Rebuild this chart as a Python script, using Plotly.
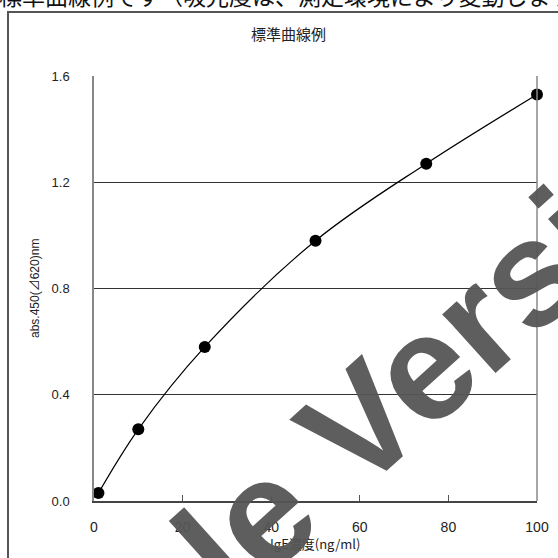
import plotly.graph_objects as go

conc = [1, 10, 25, 50, 75, 100]
absorb = [0.03, 0.27, 0.58, 0.98, 1.27, 1.53]
x_ticks = [0, 20, 40, 60, 80, 100]
y_ticks = [0.0, 0.4, 0.8, 1.2, 1.6]
y_tick_labels = ["0.0", "0.4", "0.8", "1.2", "1.6"]

L, R, T, B = 94, 21, 76, 57
W = H = 558
pw, ph = W - L - R, H - T - B

def px(xpix):
    return (xpix - L) / pw

def py(ypix):
    return (H - B - ypix) / ph

fig = go.Figure()
fig.add_trace(go.Scatter(
    x=conc, y=absorb, mode="lines+markers",
    line=dict(color="black", width=1.2, shape="spline", smoothing=1.0),
    marker=dict(color="black", size=12),
    cliponaxis=False, showlegend=False,
))

font = "Liberation Sans, Arial, Noto Sans CJK JP, sans-serif"

fig.update_layout(
    width=W, height=H,
    margin=dict(l=L, r=R, t=T, b=B, autoexpand=False),
    paper_bgcolor="white", plot_bgcolor="white",
    font=dict(family=font, size=13, color="#222"),
    xaxis=dict(range=[0, 100], tickvals=x_ticks, ticks="inside", ticklen=6,
               tickcolor="#555", showgrid=False, showline=True, linecolor="#444",
               linewidth=1.5, mirror=False, zeroline=False, ticklabelstandoff=12,
               tickfont=dict(size=14), automargin=False),
    yaxis=dict(range=[0, 1.6], tickvals=y_ticks, ticktext=y_tick_labels,
               ticks="", showgrid=True, gridcolor="#333", gridwidth=1,
               showline=True, linecolor="#888", linewidth=1.5, mirror=False,
               zeroline=False, ticklabelstandoff=20, tickfont=dict(size=13),
               automargin=False),
)

# right border of plot
fig.add_shape(type="line", xref="paper", yref="paper", x0=1, x1=1, y0=0, y1=1,
              line=dict(color="#888", width=1.5))
# outer box
fig.add_shape(type="rect", xref="paper", yref="paper",
              x0=px(8), x1=px(600), y0=py(12), y1=py(600),
              line=dict(color="#555", width=2), fillcolor="rgba(0,0,0,0)")

def note(text, xp, yp, size, color="#222", family="Noto Sans CJK JP, sans-serif",
         angle=0, xanchor="center"):
    return dict(text=text, x=px(xp), y=py(yp), xref="paper", yref="paper",
                xanchor=xanchor, yanchor="middle", showarrow=False,
                textangle=angle, font=dict(size=size, color=color, family=family))

ann = [
    note("標準曲線例", 288, 33, 15),
    note("IgE濃度(ng/ml)", 315, 543, 13),
    note("abs.450(⊿620)nm", 35, 289, 12, angle=-90,
         family="Liberation Sans, Noto Sans CJK JP, sans-serif"),
    note("標準曲線例です（吸光度は、測定環境により変動します）", -3, -5, 23,
         color="#111", xanchor="left"),
    note("<b>Sample Version</b>", 310, 470, 150, color="rgba(85,85,85,0.95)",
         family="Liberation Sans, Arial, sans-serif", angle=-42),
]
fig.update_layout(annotations=ann)

fig.write_html("out.html", config={"displayModeBar": False},
               post_script="document.body.style.margin='0px';")
